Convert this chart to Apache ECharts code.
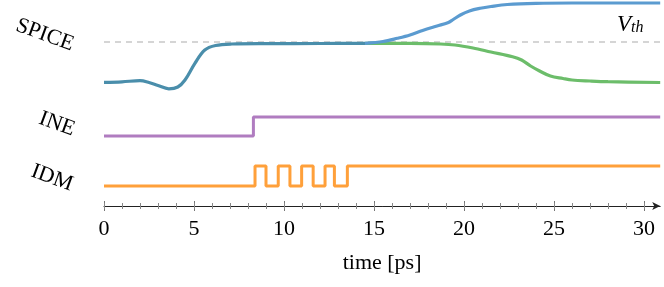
<!DOCTYPE html>
<html>
<head>
<meta charset="utf-8">
<script src="https://cdn.jsdelivr.net/npm/echarts@6/dist/echarts.min.js"></script>
<style>html,body{margin:0;padding:0;background:#fff;}#c{width:664px;height:287px;}</style>
</head>
<body>
<div id="c"></div>
<script>
// ---- data (time in ps, levels in plot units) ----
const xMax = 30.9;
const majorTicks = [0, 5, 10, 15, 20, 25, 30];
const minorTicks = [0,1,2,3,4,5,6,7,8,9,10,11,12,13,14,15,16,17,18,19,20,21,22,23,24,25,26,27,28,29,30];

const spiceCommonTime = [0, 1, 2, 2.5, 3, 3.6, 4.1, 4.5, 5.05, 5.6, 6.2, 7.1, 9, 12, 14.5];
const spiceCommonVal  = [123.7, 124.2, 125.3, 123.5, 120.5, 117.2, 119, 126, 142.7, 156, 160.5, 162, 162.4, 162.5, 162.7];

const spiceBlueTime = [14.5, 15.5, 16.3, 17, 17.7, 18.5, 19.1, 19.4, 19.8, 20.3, 20.9, 21.5, 22.4, 24, 26, 30.9];
const spiceBlueVal  = [162.7, 164.5, 167.7, 171, 175.5, 180, 183.3, 186.5, 191, 195, 197.7, 199.5, 201.5, 202.7, 203, 203];

const spiceGreenTime = [14.5, 17, 18.7, 19.5, 20.5, 21.5, 22.7, 23.2, 23.7, 24.2, 24.8, 25.5, 26, 27, 28, 30.9];
const spiceGreenVal  = [162.7, 162.6, 162, 161, 158, 154, 149.3, 146, 140, 135, 130, 127.5, 126, 125, 124.3, 123.5];

const vth = 164;

const ineTime  = [0, 8.3, 30.9];
const ineLevel = [70, 89, 89];

const idmTime  = [0, 8.39, 9.0, 9.68, 10.33, 10.98, 11.62, 12.28, 12.8, 13.52, 30.9];
const idmLevel = [20, 40, 20, 40, 20, 40, 20, 40, 20, 40, 40];

const laneLabels = ['SPICE', 'INE', 'IDM'];

// ---- build ----
const zip = (a, b) => a.map((v, i) => [v, b[i]]);
const serif = '"Liberation Serif", "DejaVu Serif", serif';

function tickAxis(values, inside, len, color) {
  return {
    type: 'value', min: 0, max: xMax, position: 'bottom',
    axisLine: { show: false }, axisLabel: { show: false }, splitLine: { show: false },
    axisTick: { show: true, inside: inside, length: len, customValues: values, lineStyle: { color: color, width: 1 } }
  };
}

const chart = echarts.init(document.getElementById('c'), null, { renderer: 'canvas' });
chart.setOption({
  animation: false,
  backgroundColor: '#fff',
  grid: { left: 104, right: 3.8, top: 0, bottom: 81 },
  xAxis: [
    {
      type: 'value', min: 0, max: xMax, position: 'bottom',
      axisLine: { show: true, symbol: ['none', 'arrow'], symbolSize: [6, 8], lineStyle: { color: '#222', width: 1 } },
      axisTick: { show: true, length: 5, customValues: majorTicks, lineStyle: { color: '#777', width: 1 } },
      axisLabel: { customValues: majorTicks, fontFamily: serif, fontSize: 22, color: '#000', margin: 12 },
      splitLine: { show: false },
      name: 'time [ps]', nameLocation: 'middle', nameGap: 46,
      nameTextStyle: { fontFamily: serif, fontSize: 22, color: '#000' }
    },
    tickAxis(minorTicks, false, 3, '#888'),
    tickAxis(majorTicks, true, 5, '#777'),
    tickAxis(minorTicks, true, 3, '#888')
  ],
  yAxis: { type: 'value', min: 0, max: 206, show: false },
  graphic: [
    { type: 'text', x: 45, y: 35, rotation: -20 * Math.PI / 180,
      style: { text: laneLabels[0], fontFamily: serif, fontSize: 22, fill: '#000', align: 'center', verticalAlign: 'middle' } },
    { type: 'text', x: 57, y: 124, rotation: -20 * Math.PI / 180,
      style: { text: laneLabels[1], fontFamily: serif, fontSize: 22, fill: '#000', align: 'center', verticalAlign: 'middle' } },
    { type: 'text', x: 52, y: 178, rotation: -20 * Math.PI / 180,
      style: { text: laneLabels[2], fontFamily: serif, fontSize: 22, fill: '#000', align: 'center', verticalAlign: 'middle' } },
    { type: 'text', x: 617, y: 24.5,
      style: { text: 'V', fontFamily: serif, fontStyle: 'italic', fontSize: 23, fill: '#000', align: 'left', verticalAlign: 'middle' } },
    { type: 'text', x: 631, y: 28,
      style: { text: 'th', fontFamily: serif, fontStyle: 'italic', fontSize: 16, fill: '#000', align: 'left', verticalAlign: 'middle' } }
  ],
  series: [
    { type: 'line', data: [[0, vth], [xMax, vth]], symbol: 'none', silent: true,
      lineStyle: { color: '#c8c8c8', width: 1.3, type: [6, 5] }, z: 1 },
    { type: 'line', data: zip(spiceGreenTime, spiceGreenVal), symbol: 'none', smooth: 0.35, clip: false,
      lineStyle: { color: '#6cbd6a', width: 3.2 }, z: 2 },
    { type: 'line', data: zip(spiceBlueTime, spiceBlueVal), symbol: 'none', smooth: 0.35, clip: false,
      lineStyle: { color: '#5b9bd0', width: 3.2 }, z: 3 },
    { type: 'line', data: zip(spiceCommonTime, spiceCommonVal), symbol: 'none', smooth: 0.35, clip: false,
      lineStyle: { color: '#4a8eab', width: 3.2 }, z: 4 },
    { type: 'line', data: zip(ineTime, ineLevel), symbol: 'none', step: 'end', clip: false,
      lineStyle: { color: '#b07cc0', width: 3 }, z: 3 },
    { type: 'line', data: zip(idmTime, idmLevel), symbol: 'none', step: 'end', clip: false,
      lineStyle: { color: '#ffa03a', width: 3 }, z: 3 }
  ]
});
</script>
</body>
</html>
